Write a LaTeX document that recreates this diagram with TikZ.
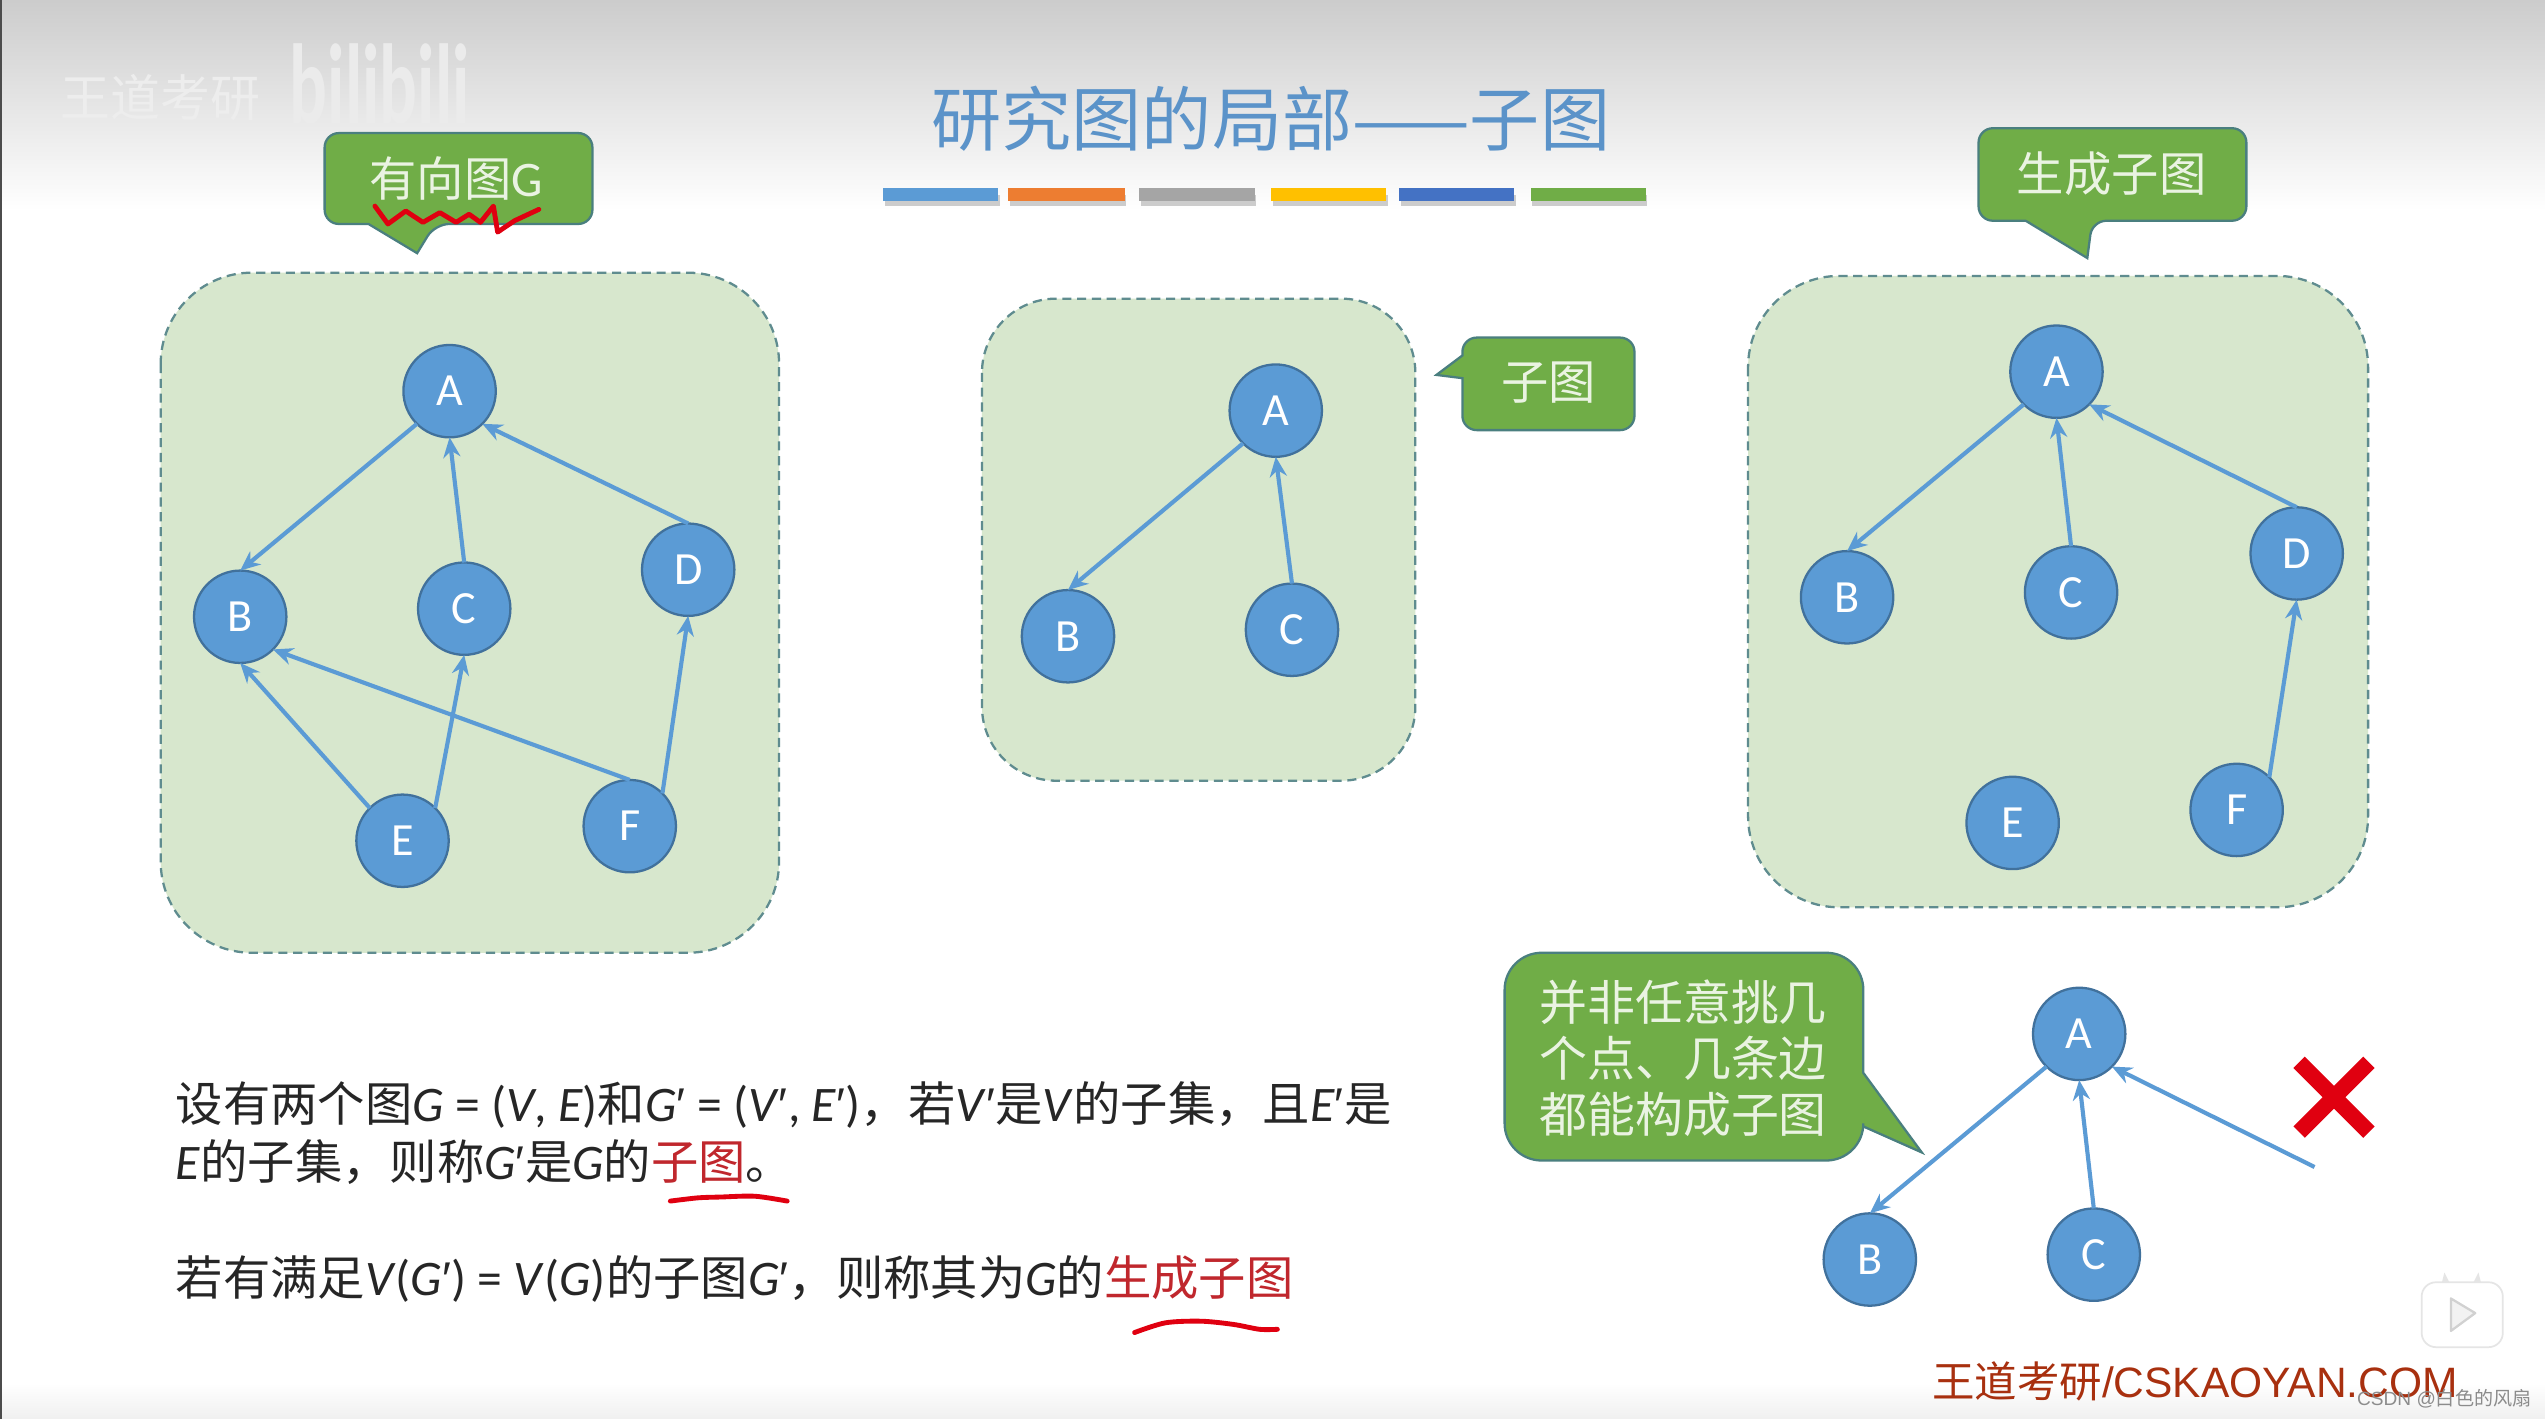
\documentclass[tikz,border=0pt]{standalone}
\usepackage{fontspec}
\setmainfont{Carlito}[Scale=1.05]
\newfontfamily\cjk{Noto Sans CJK SC}
\newfontfamily\lib{Liberation Sans}
\usetikzlibrary{arrows.meta}
\definecolor{nodeblue}{HTML}{5B9BD5}
\definecolor{nodeline}{HTML}{41719C}
\definecolor{callgreen}{HTML}{70AD47}
\definecolor{callline}{HTML}{4A7F7F}
\definecolor{boxgreen}{HTML}{D7E7CD}
\definecolor{boxline}{HTML}{5F8C8F}
\definecolor{hlred}{HTML}{C0272D}
\definecolor{inkred}{HTML}{E00010}
\definecolor{titleblue}{HTML}{5B93C9}
\definecolor{webred}{HTML}{A8300F}
\definecolor{calltextc}{HTML}{EAF3E2}
\newcommand\zh[1]{{\cjk #1}}
\newcommand\iv[1]{\textit{#1}}
\newcommand\prm{{\lib ′\kern0.01em}}
\tikzset{
  vert/.style={circle,draw=nodeline,fill=nodeblue,line width=0.8pt,minimum size=32.4pt,inner sep=0pt,outer sep=0pt,text=white,font=\fontsize{15.4pt}{18pt}\selectfont},
  edge/.style={draw=nodeblue,line width=1.45pt,-{Stealth[length=7pt,width=6pt]}},
  panel/.style={draw=boxline,fill=boxgreen,line width=0.8pt,dash pattern=on 3.2pt off 2pt},
  callshape/.style={draw=callline,fill=callgreen,line width=0.8pt},
  calltext/.style={text=calltextc,inner sep=0pt,font=\fontsize{16.6pt}{20pt}\selectfont\cjk},
  bodyline/.style={anchor=west,inner sep=0pt,text=black!85,font=\fontsize{16.6pt}{20pt}\selectfont},
  scribble/.style={draw=inkred,line width=1.7pt,line cap=round,line join=round}
}
\begin{document}
\begin{tikzpicture}[x=0.02cm,y=-0.02cm]
\useasboundingbox (0,0) rectangle (1568,874);
% background
\fill[white] (0,0) rectangle (1568,874);
\shade[top color=black!20,bottom color=white] (0,0) rectangle (1568,130);
\shade[top color=white,bottom color=black!6] (0,852) rectangle (1568,874);
\fill[black!70] (0,0) rectangle (1,874);
% watermark
\node[inner sep=0pt,text=black!7,font=\fontsize{17.5pt}{20pt}\selectfont\cjk] (wm1) at (99,60) {王道考研};
\node[inner sep=0pt,xscale=0.62,text=black!8,font=\fontsize{38pt}{44pt}\selectfont\bfseries] (wm2) at (234,52) {bilibili};
% title
\node[inner sep=0pt,text=titleblue,font=\fontsize{24.6pt}{28pt}\selectfont\cjk] (title) at (783,73) {研究图的局部——子图};
% colour bars
\foreach \xa/\xb/\c in {544/615/5B9BD5,621/693/ED7D31,702/773/A5A5A5,783/854/FFC000,862/933/4472C4,943/1014/70AD47}{
  \definecolor{barc}{HTML}{\c}
  \fill[black!20] (\xa+1,120) rectangle (\xb+1,127);
  \fill[barc] (\xa,116) rectangle (\xb,124);
}
% panels
\draw[panel,rounded corners=32pt] (99,168) rectangle (480,587);
\draw[panel,rounded corners=26pt] (605,184) rectangle (872,481);
\draw[panel,rounded corners=32pt] (1077,170) rectangle (1459,559);
% callouts
\draw[callshape] [rounded corners=5pt] (200,82) -- (365,82) -- (365,138) -- (268,138) [sharp corners] -- (257,156) -- (227,138) [rounded corners=5pt] -- (200,138) -- cycle;
\node[calltext] (gcall) at (281,110) {有向图{\fontfamily{\rmdefault}\selectfont G}};
\draw[callshape] [rounded corners=5pt] (1219,79) -- (1384,79) -- (1384,136) -- (1289,136) [sharp corners] -- (1286,159) -- (1248,136) [rounded corners=5pt] -- (1219,136) -- cycle;
\node[calltext] (scall) at (1301,107) {生成子图};
\draw[callshape] [rounded corners=5pt] (901,208) -- (1007,208) -- (1007,265) -- (901,265) [sharp corners] -- (901,233) -- (885,231) -- (901,219) [rounded corners=5pt] -- cycle;
\node[calltext] (zcall) at (954,236) {子图};
\draw[callshape] [rounded corners=13pt] (927,587) -- (1148,587) [sharp corners] -- (1148,661) -- (1184,710) -- (1148,694) [rounded corners=13pt] -- (1148,715) -- (927,715) -- cycle;
\node[calltext,align=center,font=\fontsize{16.8pt}{19.8pt}\selectfont\cjk] (ncall) at (1037,652) {并非任意挑几\\个点、几条边\\都能构成子图};
% graph G
\node[vert] (a1) at (277,241) {A};
\node[vert] (b1) at (148,380) {B};
\node[vert] (c1) at (286,375) {C};
\node[vert] (d1) at (424,351) {D};
\node[vert] (e1) at (248,518) {E};
\node[vert] (f1) at (388,509) {F};
\draw[edge] (a1.south west) -- (b1.north);
\draw[edge] (c1.north) -- (a1.south);
\draw[edge] (d1.north) -- (a1.south east);
\draw[edge] (e1.north west) -- (b1.south);
\draw[edge] (e1.north east) -- (c1.south);
\draw[edge] (f1.north) -- (b1.south east);
\draw[edge] (f1.north east) -- (d1.south);
% subgraph
\node[vert] (a2) at (786,253) {A};
\node[vert] (b2) at (658,392) {B};
\node[vert] (c2) at (796,388) {C};
\draw[edge] (a2.south west) -- (b2.north);
\draw[edge] (c2.north) -- (a2.south);
% spanning subgraph
\node[vert] (a3) at (1267,229) {A};
\node[vert] (b3) at (1138,368) {B};
\node[vert] (c3) at (1276,365) {C};
\node[vert] (d3) at (1415,341) {D};
\node[vert] (e3) at (1240,507) {E};
\node[vert] (f3) at (1378,499) {F};
\draw[edge] (a3.south west) -- (b3.north);
\draw[edge] (c3.north) -- (a3.south);
\draw[edge] (d3.north) -- (a3.south east);
\draw[edge] (f3.north east) -- (d3.south);
% counter example
\node[vert] (a4) at (1281,637) {A};
\node[vert] (b4) at (1152,776) {B};
\node[vert] (c4) at (1290,773) {C};
\coordinate (free) at (1426,719);
\draw[edge] (a4.south west) -- (b4.north);
\draw[edge] (c4.north) -- (a4.south);
\draw[edge] (free) -- (a4.south east);
% red cross
\fill[inkred,shift={(1438,676)}] (-25,-18) -- (-18,-25) -- (0,-7) -- (18,-25) -- (25,-18) -- (7,0) -- (25,18) -- (18,25) -- (0,7) -- (-18,25) -- (-25,18) -- (-7,0) -- cycle;
% body text
\node[bodyline] (l1) at (108,681) {\zh{设有两个图}\iv{G} = (\iv{V}, \iv{E})\zh{和}\iv{G}\prm{} = (\iv{V}\prm, \iv{E}\prm)\zh{，若}\iv{V}\prm\zh{是}\iv{V}\zh{的子集，且}\iv{E}\prm\zh{是}};
\node[bodyline] (l2) at (108,716) {\iv{E}\zh{的子集，则称}\iv{G}\prm\zh{是}\iv{G}\zh{的}\textcolor{hlred}{\zh{子图}}\zh{。}};
\node[bodyline] (l3) at (108,788) {\zh{若有满足}\iv{V}(\iv{G}\prm) = \iv{V}(\iv{G})\zh{的子图}\iv{G}\prm\zh{，则称其为}\iv{G}\zh{的}\textcolor{hlred}{\zh{生成子图}}};
% red ink
\draw[scribble] (231,127) -- (239,138) -- (250,130) -- (260.6,137) -- (271,131) -- (281,137) -- (289,132) -- (296,137) -- (304,127) -- (306.6,143) -- (317,136) -- (332,129);
\draw[scribble] plot[smooth] coordinates {(413,740) (430,738) (444,737.5) (465,737) (485,740)};
\draw[scribble] plot[smooth] coordinates {(699,821) (718,815) (740,814) (760,816) (776,819) (787,819)};
% play icon
\fill[black!10] (1506,784) -- (1510,792) -- (1504,792) -- cycle;
\fill[black!10] (1527,784) -- (1523,792) -- (1529,792) -- cycle;
\draw[black!10,fill=white,line width=0.6pt,rounded corners=5pt] (1492,790) rectangle (1542,830);
\draw[black!18,fill=black!5,line width=0.8pt,line join=round] (1510,800) -- (1525,809) -- (1510,820) -- cycle;
% footer
\node[anchor=west,inner sep=0pt,text=webred,font=\fontsize{14.9pt}{18pt}\selectfont\lib] (web) at (1190,851) {\zh{王道考研}/CSKAOYAN.COM};
\node[anchor=east,inner sep=0pt,text=black!45,font=\fontsize{6.7pt}{8pt}\selectfont\lib] (csdn) at (1560,862) {CSDN @\zh{白色的风扇}};
\end{tikzpicture}
\end{document}
